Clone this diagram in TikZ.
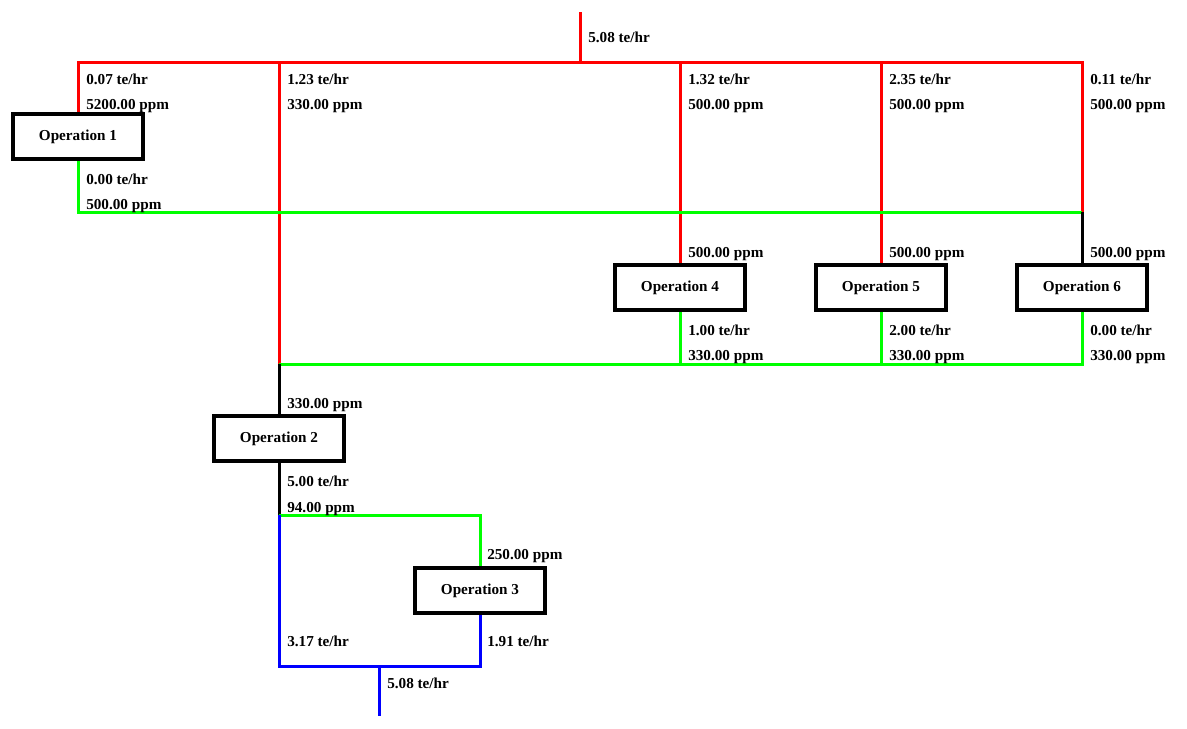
\documentclass[tikz,border=0pt]{standalone}
\usepackage{fontspec}
\setmainfont{Liberation Serif}
\usetikzlibrary{positioning}
\definecolor{NetRed}{HTML}{FF0000}
\definecolor{NetGreen}{HTML}{00FF00}
\definecolor{NetBlue}{HTML}{0000FF}
\tikzset{
  opbox/.style={draw,line width=3pt,inner sep=0pt,minimum width=97.5pt,
    minimum height=33.75pt,font=\fontsize{11.4}{13}\selectfont\bfseries},
  flowlbl/.style={anchor=base west,inner sep=0pt,font=\fontsize{11.4}{13}\selectfont\bfseries},
  pipe/.style={line width=2.25pt},
}
\begin{document}
\begin{tikzpicture}[x=0.75pt,y=-0.75pt]
      \useasboundingbox (0,0) rectangle (1187,728);
      % operations
      \node[opbox] (op1) at (78,136.5) {Operation 1};
      \node[opbox] (op4) at (680,287.5) {Operation 4};
      \node[opbox] (op5) at (881,287.5) {Operation 5};
      \node[opbox] (op6) at (1082,287.5) {Operation 6};
      \node[opbox] (op2) at (279,438.5) {Operation 2};
      \node[opbox] (op3) at (480,590.5) {Operation 3};
      % junctions
      \coordinate (feed) at (580,12);
      \coordinate (hdr) at (580,62);
      \coordinate (h1) at (78,62);
      \coordinate (h2) at (279,62);
      \coordinate (h4) at (680,62);
      \coordinate (h5) at (881,62);
      \coordinate (h6) at (1082,62);
      \coordinate (g1) at (78,212);
      \coordinate (g6) at (1082,212);
      \coordinate (m2) at (279,364);
      \coordinate (m4) at (680,364);
      \coordinate (m5) at (881,364);
      \coordinate (m6) at (1082,364);
      \coordinate (s2) at (279,515);
      \coordinate (s3) at (480,515);
      \coordinate (b2) at (279,666);
      \coordinate (b3) at (480,666);
      \coordinate (bout) at (379,666);
      \coordinate (prod) at (379,716);
      % fresh water
      \draw[pipe,NetRed] (feed) -- (hdr);
      \draw[pipe,NetRed,line cap=rect] (h1) -- (h6);
      \draw[pipe,NetRed] (h1) -- (op1.north);
      \draw[pipe,NetRed] (h2) -- (m2);
      \draw[pipe,NetRed] (h4) -- (op4.north);
      \draw[pipe,NetRed] (h5) -- (op5.north);
      \draw[pipe,NetRed] (h6) -- (g6);
      % reuse
      \draw[pipe,NetGreen] (op1.south) -- (g1) -- (g6);
      \draw[pipe,black] (g6) -- (op6.north);
      \draw[pipe,NetGreen] (op4.south) -- (m4);
      \draw[pipe,NetGreen] (op5.south) -- (m5);
      \draw[pipe,NetGreen] (op6.south) -- (m6) -- (m2);
      \draw[pipe,black] (m2) -- (op2.north);
      \draw[pipe,black] (op2.south) -- (s2);
      \draw[pipe,NetGreen] (s2) -- (s3) -- (op3.north);
      % effluent
      \draw[pipe,NetBlue] (s2) -- (b2) -- (b3) -- (op3.south);
      \draw[pipe,NetBlue] (bout) -- (prod);
      % flow labels
      \node[flowlbl] (lfeed) at (588,42) {5.08 te/hr};
      \node[flowlbl] (l1a) at (86,84) {0.07 te/hr};
      \node[flowlbl] (l1b) at (86,109) {5200.00 ppm};
      \node[flowlbl] (l2a) at (287,84) {1.23 te/hr};
      \node[flowlbl] (l2b) at (287,109) {330.00 ppm};
      \node[flowlbl] (l4a) at (688,84) {1.32 te/hr};
      \node[flowlbl] (l4b) at (688,109) {500.00 ppm};
      \node[flowlbl] (l5a) at (889,84) {2.35 te/hr};
      \node[flowlbl] (l5b) at (889,109) {500.00 ppm};
      \node[flowlbl] (l6a) at (1090,84) {0.11 te/hr};
      \node[flowlbl] (l6b) at (1090,109) {500.00 ppm};
      \node[flowlbl] (o1a) at (86,184) {0.00 te/hr};
      \node[flowlbl] (o1b) at (86,209) {500.00 ppm};
      \node[flowlbl] (i4) at (688,257) {500.00 ppm};
      \node[flowlbl] (i5) at (889,257) {500.00 ppm};
      \node[flowlbl] (i6) at (1090,257) {500.00 ppm};
      \node[flowlbl] (o4a) at (688,335) {1.00 te/hr};
      \node[flowlbl] (o4b) at (688,360) {330.00 ppm};
      \node[flowlbl] (o5a) at (889,335) {2.00 te/hr};
      \node[flowlbl] (o5b) at (889,360) {330.00 ppm};
      \node[flowlbl] (o6a) at (1090,335) {0.00 te/hr};
      \node[flowlbl] (o6b) at (1090,360) {330.00 ppm};
      \node[flowlbl] (i2) at (287,408) {330.00 ppm};
      \node[flowlbl] (o2a) at (287,486) {5.00 te/hr};
      \node[flowlbl] (o2b) at (287,512) {94.00 ppm};
      \node[flowlbl] (i3) at (487,559) {250.00 ppm};
      \node[flowlbl] (w2) at (287,646) {3.17 te/hr};
      \node[flowlbl] (w3) at (487,646) {1.91 te/hr};
      \node[flowlbl] (lprod) at (387,688) {5.08 te/hr};
    \end{tikzpicture}
\end{document}
